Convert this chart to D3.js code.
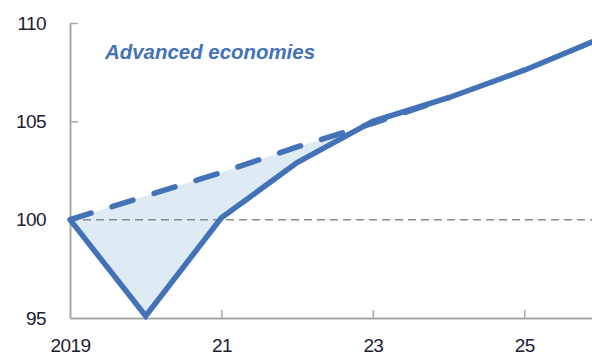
<!DOCTYPE html>
<html><head><meta charset="utf-8">
<script src="https://cdn.jsdelivr.net/npm/d3@7"></script>
<style>body{margin:0;background:#fff}svg{display:block}</style>
</head><body><svg id="c" width="592" height="357"></svg>
<script>
const years = [2019, 2020, 2021, 2022, 2023, 2024, 2025, 2026];
const actual = [100, 95.1, 100.1, 102.9, 105.0, 106.2, 107.6, 109.2];
const preYears = [2019, 2020, 2021, 2022, 2023, 2024];
const prePandemic = [100, 101.2, 102.4, 103.7, 104.9, 106.2];
const yTicks = [95, 100, 105, 110];
const xTicks = [2019, 2021, 2023, 2025];
const xTickLabels = ["2019", "21", "23", "25"];
const title = "Advanced economies";

const svg = d3.select("#c");
const x = d3.scaleLinear().domain([2019, 2026]).range([70, 600]);
const y = d3.scaleLinear().domain([95, 110]).range([318, 23]);
const blue = "#4472b7";

// shaded gap 2019-2023
const shadeIdx = d3.range(0, 5);
const area = d3.area()
  .x(i => x(years[i]))
  .y0(i => y(actual[i]))
  .y1(i => y(prePandemic[i]));
svg.append("path").datum(shadeIdx).attr("d", area).attr("fill", "#deebf5");

// baseline 100
svg.append("line").attr("x1", x(2019)).attr("x2", 592).attr("y1", y(100)).attr("y2", y(100))
  .attr("stroke", "#8a8a8a").attr("stroke-width", 1.5).attr("stroke-dasharray", "8,5");

// axes
const yAxis = d3.axisLeft(y).tickValues(yTicks).tickSizeInner(-8).tickSizeOuter(0).tickPadding(24);
const gy = svg.append("g").attr("transform", `translate(${x(2019)},0)`).call(yAxis);
const xAxis = d3.axisBottom(x).tickValues(xTicks).tickFormat((d, i) => xTickLabels[i]).tickSizeInner(-8).tickSizeOuter(0).tickPadding(30);
const gx = svg.append("g").attr("transform", `translate(0,${y(95)})`).call(xAxis);
[gx, gy].forEach(g => {
  g.select(".domain").attr("stroke", "#a8a8a8").attr("stroke-width", 2);
  g.selectAll(".tick line").attr("stroke", "#a8a8a8").attr("stroke-width", 1.5);
  g.selectAll("text").attr("fill", "#1c2033").attr("font-family", "Liberation Sans, Arial, sans-serif")
    .attr("font-size", 19).attr("letter-spacing", "-0.6px");
});
gy.selectAll(".tick").filter(d => d === 95).select("line").remove();
gx.selectAll(".tick").filter(d => d === 2019).select("line").remove();
gx.selectAll("text").attr("dy", "0.2em");

// lines
const line = d3.line().x(d => x(d[0])).y(d => y(d[1]));
svg.append("path").datum(preYears.map((d, i) => [d, prePandemic[i]])).attr("d", line)
  .attr("fill", "none").attr("stroke", blue).attr("stroke-width", 5.5)
  .attr("stroke-dasharray", "22,22").attr("stroke-linecap", "round");
svg.append("path").datum(years.map((d, i) => [d, actual[i]])).attr("d", line)
  .attr("fill", "none").attr("stroke", blue).attr("stroke-width", 5.5).attr("stroke-linejoin", "miter");

svg.append("text").attr("x", 105).attr("y", 59).text(title)
  .attr("font-family", "Liberation Sans, Arial, sans-serif").attr("font-style", "italic").attr("font-weight", "bold")
  .attr("font-size", 21).attr("fill", "#4472b7")
  .attr("textLength", 210).attr("lengthAdjust", "spacingAndGlyphs");
</script></body></html>
